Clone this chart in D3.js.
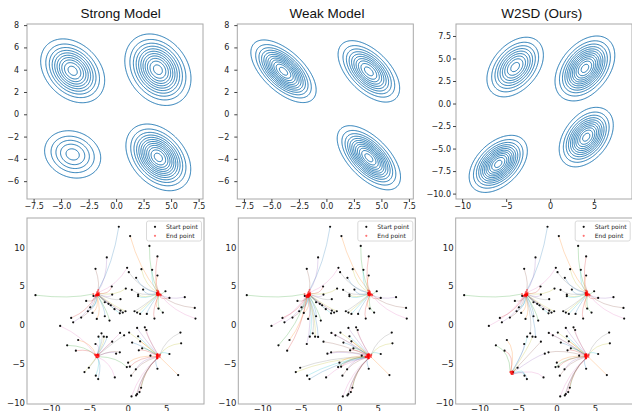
<!DOCTYPE html>
<html>
<head>
<meta charset="utf-8">
<script src="https://cdn.jsdelivr.net/npm/d3@7"></script>
<style>
  body { margin: 0; background: #fff; }
  svg { display: block; }
</style>
</head>
<body>
<svg id="fig" width="632" height="411"></svg>
<script>

// top row: each mode
// mean, spread (sx, sy), correlation, peak height counted in rings
var strongMeans = [[-3.95, 3.9], [3.8, 4.0], [-3.95, -3.6], [3.84, -3.87]];
var strongSpread = [[1.34, 1.32], [1.36, 1.45], [1.38, 1.15], [1.31, 1.33]];
var strongCorr = [-0.3, -0.25, -0.15, -0.35];
var strongPeak = [10.5, 11.5, 5.5, 12.5];

var weakMeans = [[-3.9, 3.86], [3.86, 3.85], [3.86, -3.9]];
var weakSpread = [[1.32, 1.25], [1.29, 1.27], [1.28, 1.28]];
var weakCorr = [-0.6, -0.55, -0.6];
var weakPeak = [12.5, 10.5, 12.5];

var w2sdMeans = [[-3.98, 4.05], [3.95, 3.9], [4.1, -3.74], [-5.9, -6.7]];
var w2sdSpread = [[1.51, 1.56], [1.51, 1.6], [1.39, 1.49], [1.47, 1.41]];
var w2sdCorr = [0.4, 0.4, 0.4, 0.45];
var w2sdPeak = [9.5, 12.5, 11.5, 12.5];

// bottom row: start points (same noise in all three panels)
var startPoints = [
  [-1.17, 12.67], [0.30, 11.47], [2.81, 10.2], [3.85, 8.84], [-2.73, 8.71], [-4.2, 7.24],
  [-0.09, 7.37], [0.13, 6.81], [1.77, 7.2], [3.16, 7.11], [1.08, 6.08], [3.85, 6.38],
  [-12.0, 3.84], [-2.08, 4.96], [-2.03, 3.92], [-5.41, 3.1], [-4.46, 3.75], [-0.95, 3.32],
  [-0.26, 4.7], [-4.89, 2.28], [-5.19, 1.77], [-4.59, 1.55], [-2.99, 2.93], [-2.51, 2.72],
  [-2.21, 2.54], [-1.73, 2.03], [-0.95, 1.85], [-0.65, 1.6], [-0.3, 1.77], [-1.04, 1.5],
  [-2.99, 1.12], [-4.03, 0.78], [-2.38, 0.56], [-7.36, 0.91], [-7.1, 0.34], [-6.06, 0.95],
  [-8.79, -0.13], [0.52, 4.53], [1.34, 3.92], [1.34, 3.71], [1.99, 4.57], [3.81, 4.09],
  [4.89, 4.35], [5.41, 3.49], [7.4, 3.58], [8.7, 2.2], [8.79, 0.82], [0.87, 1.77],
  [1.21, 1.6], [1.6, 1.42], [2.47, 1.42], [3.98, 2.11], [4.55, 1.6], [3.46, 0.82],
  [1.21, -0.39], [2.21, -0.3], [2.42, -0.65], [-3.42, -1.08], [-3.12, -1.51], [-3.81, -1.51],
  [-2.73, -1.55], [-6.45, -1.94], [-7.88, -2.63], [-6.75, -3.32], [-4.2, -2.46], [-2.03, -2.16],
  [-1.0, -1.03], [-0.48, -1.34], [0.17, -0.99], [1.34, -1.47], [0.56, -2.28], [1.6, -2.11],
  [1.86, -3.02], [1.43, -3.28], [-1.52, -3.71], [-1.04, -3.53], [2.94, -3.97], [6.84, -0.99],
  [6.93, -2.37], [5.41, -3.75], [3.85, -5.65], [0.04, -4.87], [-0.13, -5.43], [0.26, -5.39],
  [1.04, -5.73], [0.43, -6.55], [-1.69, -6.77], [-5.06, -5.52], [-5.63, -6.08], [-4.16, -6.55],
  [-3.85, -6.98], [6.54, -6.47], [1.73, -8.1], [1.52, -8.66], [1.21, -8.92], [1.08, -9.09],
  [0.48, -9.22]
];

// where the samples end up in each bottom panel
var strongModes = [[-4, 4], [4, 4], [-4, -4], [4, -4]];
var weakModes = [[-4, 4], [4, 4], [4, -4]];
var w2sdModes = [[-4, 4], [4, 4], [4, -4], [-5.9, -6.3]];

var titles = ["Strong Model", "Weak Model", "W2SD (Ours)"];
var topTicksX = [-7.5, -5, -2.5, 0, 2.5, 5, 7.5];
var topTicksY = [-6, -4, -2, 0, 2, 4, 6, 8];
var w2sdTicksX = [-10, -5, 0, 5];
var w2sdTicksY = [-10, -7.5, -5, -2.5, 0, 2.5, 5, 7.5];
var flowTicks = [-10, -5, 0, 5, 10];

var tab10 = d3.schemeCategory10;
var svg = d3.select("#fig");
var clipId = 0;

function makeAxes(left, top, w, h, xd, yd) {
  var g = svg.append("g").attr("transform", "translate(" + left + "," + top + ")");
  var id = "clip" + (clipId++);
  g.append("clipPath").attr("id", id).append("rect").attr("width", w).attr("height", h);
  var x = d3.scaleLinear().domain(xd).range([0, w]);
  var y = d3.scaleLinear().domain(yd).range([h, 0]);
  var plot = g.append("g").attr("clip-path", "url(#" + id + ")");
  return {g: g, plot: plot, x: x, y: y, w: w, h: h};
}

function styleAxis(sel, size) {
  sel.select(".domain").remove();
  sel.selectAll("line").attr("stroke", "#444");
  sel.selectAll("text").attr("fill", "#222")
    .style("font-family", "DejaVu Sans, sans-serif").style("font-size", size + "px");
}

function frame(ax) {
  ax.g.append("rect").attr("width", ax.w).attr("height", ax.h)
    .attr("fill", "none").attr("stroke", "#a8a8a8").attr("stroke-width", 1);
}

function contourPanel(ax, means, spread, corr, peak) {
  var xd = ax.x.domain(), yd = ax.y.domain();
  var nx = 220, ny = 220;
  var values = new Float64Array(nx * ny);
  for (var j = 0; j < ny; j++) {
    var py = yd[0] + (j + 0.5) * (yd[1] - yd[0]) / ny;
    for (var i = 0; i < nx; i++) {
      var px = xd[0] + (i + 0.5) * (xd[1] - xd[0]) / nx;
      var v = 0;
      for (var k = 0; k < means.length; k++) {
        var dx = (px - means[k][0]) / spread[k][0];
        var dy = (py - means[k][1]) / spread[k][1];
        var r = corr[k];
        var q = (dx * dx - 2 * r * dx * dy + dy * dy) / (1 - r * r);
        v += peak[k] * Math.exp(-0.5 * q);
      }
      values[j * nx + i] = v;
    }
  }
  var contours = d3.contours().size([nx, ny]).thresholds(d3.range(1, 14))(values);
  var proj = d3.geoTransform({
    point: function(cx, cy) {
      this.stream.point(ax.x(xd[0] + cx * (xd[1] - xd[0]) / nx),
                        ax.y(yd[0] + cy * (yd[1] - yd[0]) / ny));
    }
  });
  ax.plot.selectAll("path.contour").data(contours).join("path")
    .attr("class", "contour")
    .attr("d", d3.geoPath(proj))
    .attr("fill", "none")
    .attr("stroke", "#1f77b4")
    .attr("stroke-width", 1);
}

function flowPanel(ax, modes) {
  var x = ax.x, y = ax.y;
  var ends = startPoints.map(function(p) {
    var best = d3.minIndex(modes, function(m) {
      return (p[0] - m[0]) * (p[0] - m[0]) + (p[1] - m[1]) * (p[1] - m[1]);
    });
    var m = modes[best];
    return [m[0] + 0.06 * (p[0] - m[0]), m[1] + 0.06 * (p[1] - m[1])];
  });

  // trajectories: shrink toward the origin first, then settle on the mode
  ax.plot.selectAll("path.traj").data(startPoints).join("path")
    .attr("class", "traj")
    .attr("d", function(p, i) {
      var e = ends[i];
      var c = [p[0] * 0.5 + e[0] * 0.35, p[1] * 0.5 + e[1] * 0.35];
      var path = d3.path();
      path.moveTo(x(p[0]), y(p[1]));
      path.quadraticCurveTo(x(c[0]), y(c[1]), x(e[0]), y(e[1]));
      return path.toString();
    })
    .attr("fill", "none")
    .attr("stroke", function(p, i) { return tab10[i % 10]; })
    .attr("stroke-opacity", 0.32)
    .attr("stroke-width", 0.8);

  ax.plot.selectAll("circle.start").data(startPoints).join("circle")
    .attr("class", "start")
    .attr("cx", function(p) { return x(p[0]); })
    .attr("cy", function(p) { return y(p[1]); })
    .attr("r", 1.1).attr("fill", "#111");

  ax.plot.selectAll("circle.end").data(ends).join("circle")
    .attr("class", "end")
    .attr("cx", function(p) { return x(p[0]); })
    .attr("cy", function(p) { return y(p[1]); })
    .attr("r", 1.0).attr("fill", "red").attr("fill-opacity", 0.5);

  // legend
  var lg = ax.g.append("g").attr("transform", "translate(" + (ax.w - 57.5) + ",3)");
  lg.append("rect").attr("width", 55).attr("height", 20).attr("rx", 2)
    .attr("fill", "#fff").attr("fill-opacity", 0.85)
    .attr("stroke", "#d0d0d0").attr("stroke-width", 0.8);
  var items = [["Start point", "#111", 1], ["End point", "red", 0.55]];
  items.forEach(function(it, k) {
    lg.append("circle").attr("cx", 8.5).attr("cy", 5.8 + k * 9).attr("r", 1.1)
      .attr("fill", it[1]).attr("fill-opacity", it[2]);
    lg.append("text").attr("x", 19.5).attr("y", 8 + k * 9).text(it[0])
      .attr("fill", "#222").style("font-family", "DejaVu Sans, sans-serif")
      .style("font-size", "6px");
  });

  frame(ax);
  ax.g.append("g").attr("transform", "translate(0," + ax.h + ")")
    .call(d3.axisBottom(x).tickValues(flowTicks.slice(0, 4)).tickSize(0).tickPadding(1.5)
      .tickFormat(d3.format("d")))
    .call(styleAxis, 8.5);
  ax.g.append("g")
    .call(d3.axisLeft(y).tickValues(flowTicks).tickSize(0).tickPadding(2)
      .tickFormat(d3.format("d")))
    .call(styleAxis, 8.5);
}

// top row
var topCols = [27, 237.3, 456];
var topModels = [
  [strongMeans, strongSpread, strongCorr, strongPeak],
  [weakMeans, weakSpread, weakCorr, weakPeak],
  [w2sdMeans, w2sdSpread, w2sdCorr, w2sdPeak]
];
var titleX = [120.7, 327, 541.7];

topModels.forEach(function(m, c) {
  var isW2 = c === 2;
  var ax = makeAxes(topCols[c], 24, 176, 175,
    isW2 ? [-10.7, 9.3] : [-8.1, 7.9],
    isW2 ? [-10.6, 8.83] : [-7.6, 8.1]);
  contourPanel(ax, m[0], m[1], m[2], m[3]);
  frame(ax);
  ax.g.append("g").attr("transform", "translate(0," + ax.h + ")")
    .call(d3.axisBottom(ax.x).tickValues(isW2 ? w2sdTicksX : topTicksX)
      .tickSize(3).tickPadding(1).tickFormat(d3.format(isW2 ? "d" : ".1f")))
    .call(styleAxis, 8);
  ax.g.append("g")
    .call(d3.axisLeft(ax.y).tickValues(isW2 ? w2sdTicksY : topTicksY)
      .tickSize(3).tickPadding(isW2 ? 2 : 5).tickFormat(d3.format(isW2 ? ".1f" : "d")))
    .call(styleAxis, 8);
  svg.append("text").attr("x", titleX[c]).attr("y", 18)
    .attr("text-anchor", "middle").attr("fill", "#111")
    .style("font-family", "Liberation Sans, Arial, sans-serif").style("font-size", "13.5px")
    .text(titles[c]);
});

// bottom row
var botCols = [27, 238.3, 455.7];
[strongModes, weakModes, w2sdModes].forEach(function(modes, c) {
  var ax = makeAxes(botCols[c], 218, 177, 186, [-13.1, 9.9], [-10.2, 13.8]);
  flowPanel(ax, modes);
});

</script>
</body>
</html>
